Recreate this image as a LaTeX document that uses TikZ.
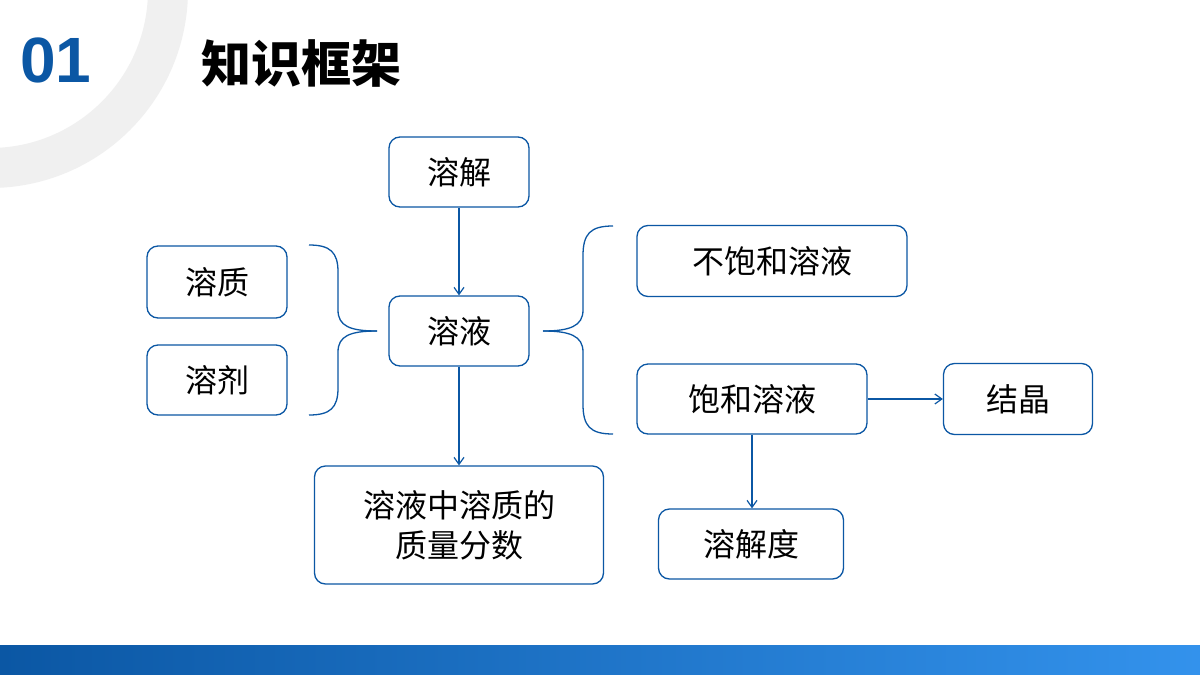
\documentclass[tikz,border=0pt]{standalone}
\usepackage{fontspec}
\setmainfont{Liberation Sans}
\newfontfamily\cjk{Noto Sans CJK SC}
\usetikzlibrary{positioning,arrows.meta}
\definecolor{navy}{HTML}{0B57A4}
\definecolor{skyb}{HTML}{3392EC}
\definecolor{ringg}{HTML}{F0F0F0}
\tikzset{
  box/.style={draw=navy, line width=1.3pt, rounded corners=11pt, fill=white,
    font=\cjk\fontsize{32}{40}\selectfont, align=center, inner sep=0pt},
  link/.style={draw=navy, line width=1.2pt, -{Straight Barb[length=7pt,width=10pt]}},
  brace/.style={draw=navy, line width=1.3pt}
}
\begin{document}
\begin{tikzpicture}[x=1pt,y=-1pt]
        \useasboundingbox (0,0) rectangle (1200,675);
        \fill[white] (0,0) rectangle (1200,675);
        % ring and bottom bar
        \begin{scope}
        \clip (0,0) rectangle (1200,675);
        \draw[ringg, line width=40pt] (-10,-10) circle (178);
        \end{scope}
        \shade[left color=navy, right color=skyb] (0,645) rectangle (1200,675);

        % title
        \node[text=navy, font=\bfseries\fontsize{64}{64}\selectfont] (num) at (56,60) {01};
        \node[font=\cjk\bfseries\fontsize{50}{50}\selectfont, anchor=west] (title) at (198,63) {知识框架};

        % boxes
        \node[box, minimum width=140, minimum height=70] (dissolve) at (459,172) {溶解};
        \node[box, minimum width=140, minimum height=70] (solution) at (459,331) {溶液};
        \node[box, minimum width=140, minimum height=72] (solute) at (217,282) {溶质};
        \node[box, minimum width=140, minimum height=70] (solvent) at (217,380) {溶剂};
        \node[box, minimum width=270, minimum height=71] (unsat) at (772,261) {不饱和溶液};
        \node[box, minimum width=230, minimum height=70] (sat) at (752,399) {饱和溶液};
        \node[box, minimum width=149, minimum height=71] (crystal) at (1018,399) {结晶};
        \node[box, minimum width=289, minimum height=118] (fraction) at (459,525) {溶液中溶质的\\质量分数};
        \node[box, minimum width=185, minimum height=70] (solub) at (751,544) {溶解度};

        % arrows
        \draw[link] (dissolve) -- (solution);
        \draw[link] (solution) -- (fraction);
        \draw[link] (sat) -- (crystal);
        \draw[link] (sat.south) -- (solub.north -| sat.south);

        % braces
        \coordinate (ltip) at (377,331);
        \coordinate (rtip) at (543,331);
        \draw[brace] (309,245) .. controls (330,245) and (338,252) .. (338,272) -- (338,310)
          .. controls (338,326) and (350,331) .. (ltip);
        \draw[brace] (309,415) .. controls (330,415) and (338,408) .. (338,388) -- (338,352)
          .. controls (338,336) and (350,331) .. (ltip);
        \draw[brace] (613,226) .. controls (590,226) and (583,234) .. (583,256) -- (583,310)
          .. controls (583,326) and (570,331) .. (rtip);
        \draw[brace] (613,434) .. controls (590,434) and (583,426) .. (583,404) -- (583,352)
          .. controls (583,336) and (570,331) .. (rtip);
\end{tikzpicture}
\end{document}
